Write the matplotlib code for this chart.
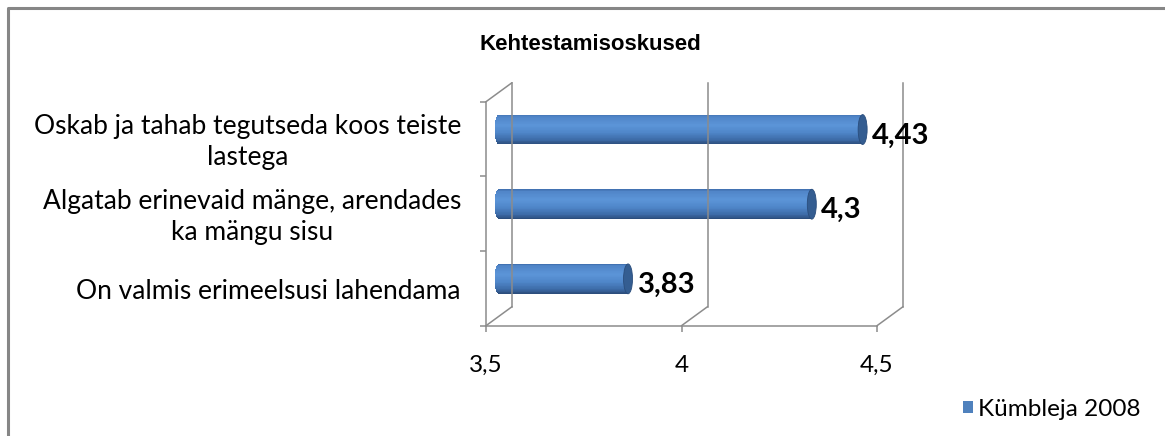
import numpy as np
import matplotlib
matplotlib.use("Agg")
import matplotlib.pyplot as plt
from matplotlib.transforms import ScaledTranslation
from matplotlib.patches import Ellipse, Patch
from matplotlib.lines import Line2D
from matplotlib.colors import LinearSegmentedColormap

# ---------------- data ----------------
categories = [
    "On valmis erimeelsusi lahendama",
    "Algatab erinevaid mänge, arendades\nka mängu sisu",
    "Oskab ja tahab tegutseda koos teiste\nlastega",
]
values = [3.83, 4.3, 4.43]
xticks = [3.5, 4.0, 4.5]
xtick_labels = ["3,5", "4", "4,5"]
title = "Kehtestamisoskused"
series_name = "Kümbleja 2008"

# ---------------- style ----------------
W, H, DPI = 1165, 436, 100
grid_col = "#8c8c8c"
bar_h = 0.4
cap_px = 4.5        # half width of cylinder end ellipse (px)
depth = (26, 19)    # 3D depth offset (px)

fig = plt.figure(figsize=(W / DPI, H / DPI), dpi=DPI)
ax = fig.add_axes([486 / W, (H - 325.7) / H, 391 / W, 224 / H])
ax.set_xlim(3.5, 4.5)
ax.set_ylim(-0.5, 2.5)
ax.patch.set_visible(False)
for s in ["top", "right"]:
    ax.spines[s].set_visible(False)
for s in ["left", "bottom"]:
    ax.spines[s].set_color(grid_col)
    ax.spines[s].set_linewidth(1.1)
ax.set_yticks([-0.5, 0.5, 1.5, 2.5])
ax.set_yticklabels([])
ax.set_xticks(xticks)
ax.set_xticklabels(xtick_labels, family="Lato", fontsize=17.5)
ax.tick_params(axis="both", color=grid_col, width=1.1, length=4, direction="out")
ax.tick_params(axis="x", pad=17)

px = fig.dpi_scale_trans
back = ax.transData + ScaledTranslation(depth[0] / DPI, depth[1] / DPI, px)
mid = ax.transData + ScaledTranslation(depth[0] / 2 / DPI, depth[1] / 2 / DPI, px)

# back wall gridlines
for x in xticks:
    ax.plot([x, x], [-0.5, 2.5], color=grid_col, lw=1.1, transform=back, clip_on=False)
    ax.annotate("", xy=(x, -0.5), xytext=depth, textcoords="offset pixels",
                arrowprops=dict(arrowstyle="-", color=grid_col, lw=1.1,
                                shrinkA=0, shrinkB=0))
ax.annotate("", xy=(3.5, 2.5), xytext=depth, textcoords="offset pixels",
            arrowprops=dict(arrowstyle="-", color=grid_col, lw=1.1,
                            shrinkA=0, shrinkB=0))

# cylinder bars
cmap = LinearSegmentedColormap.from_list("cyl", [
    (0.0, "#3f6eae"), (0.07, "#5085c8"), (0.35, "#5c95d8"),
    (0.6, "#4f86c9"), (0.85, "#3d6ba7"), (1.0, "#2b4b79")])
ex = cap_px / 391.0
N = 40
ypos = np.arange(len(categories))
vals = np.array(values)
for k in range(N):
    s = (k + 0.5) / N            # 0 top -> 1 bottom
    t = 1 - 2 * s                # +1 top -> -1 bottom
    left = 3.5 - ex * np.sqrt(max(0.0, 1 - t * t))
    ax.barh(ypos + t * bar_h / 2, vals - left, left=left, height=bar_h / N * 1.05,
            color=cmap(s), linewidth=0, transform=mid, clip_on=False)
for y, v in zip(ypos, vals):
    ax.add_patch(Ellipse((v, y), 2 * ex, bar_h, facecolor="#345d91",
                         edgecolor="#2a4d7c", lw=0.6, transform=mid, clip_on=False))
    ax.annotate(str(v).replace(".", ","), xy=(v, y), xycoords=mid,
                xytext=(cap_px + 5, -6), textcoords="offset pixels",
                ha="left", va="center", fontsize=21, fontweight="bold",
                family="Lato", color="black")

# category labels
for y, lab in zip(ypos, categories):
    ax.annotate(lab, xy=(3.5, y), xytext=(-25, -3), textcoords="offset pixels",
                ha="right", va="center", multialignment="center",
                fontsize=19, family="Lato", linespacing=1.3)

# title
fig.text(590 / W, 1 - 45 / H, title, ha="center", va="center",
         fontsize=16, fontweight="bold", family="Liberation Sans")

# legend
fig.legend(handles=[Patch(facecolor="#4f81bd", label=series_name)],
           loc="center left", bbox_to_anchor=(963 / W, 1 - 409 / H),
           frameon=False, prop=dict(family="Lato", size=17.5),
           handlelength=0.42, handleheight=0.42, handletextpad=0.2,
           borderpad=0, borderaxespad=0)

# chart frame (top and left edges visible)
fig.add_artist(Line2D([7.5 / W, 7.5 / W, 1.0], [0.0, 1 - 8 / H, 1 - 8 / H],
                      transform=fig.transFigure, color="#868686", lw=2.2))

fig.savefig("out.png", dpi=DPI)
